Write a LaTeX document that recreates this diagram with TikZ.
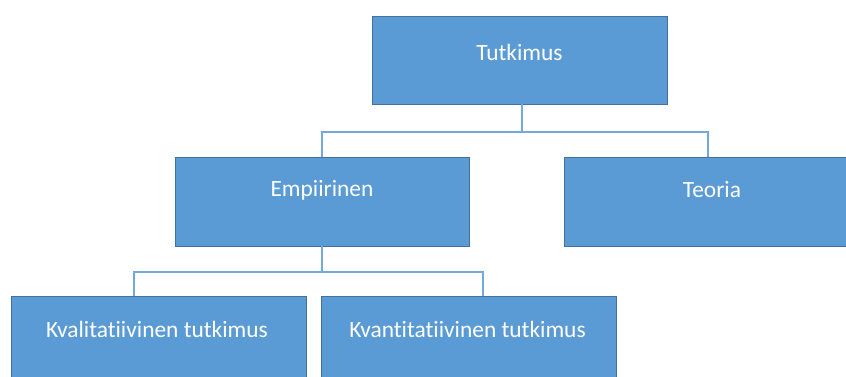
\documentclass[tikz,border=0pt]{standalone}
\usepackage{fontspec}
\setmainfont[Ligatures=NoCommon]{Carlito}
\definecolor{boxfill}{HTML}{5B9BD5}
\definecolor{boxedge}{HTML}{41719C}
\definecolor{linkblue}{HTML}{74A9DE}
\begin{document}
\begin{tikzpicture}[x=1pt,y=-1pt,
  orgbox/.style={draw=boxedge, line width=1pt, fill=boxfill},
  boxlabel/.style={text=white, font=\fontsize{23.4}{27}\selectfont, inner sep=0pt},
  link/.style={draw=linkblue, line width=2pt}]
  \useasboundingbox (0,0) rectangle (846,376);

  % boxes
  \path[orgbox] (372,16) rectangle (667,104);
  \path[orgbox] (175,157) rectangle (469,246);
  \path[orgbox] (564,157) rectangle (860,246);
  \path[orgbox] (11,296) rectangle (306,390);
  \path[orgbox] (321,296) rectangle (616,390);

  % labels
  \node[boxlabel] (tut) at (519.5,52) {Tutkimus};
  \node[boxlabel] (emp) at (322,190) {Empiirinen};
  \node[boxlabel] (teo) at (712,190) {Teoria};
  \node[boxlabel] (kval) at (157,329) {Kvalitatiivinen tutkimus};
  \node[boxlabel] (kvan) at (467.5,329) {Kvantitatiivinen tutkimus};

  % connector anchors
  \coordinate (tutB) at (522,104);
  \coordinate (empT) at (322,157);
  \coordinate (teoT) at (708,157);
  \coordinate (empB) at (322,246);
  \coordinate (kvalT) at (134,296);
  \coordinate (kvanT) at (483,296);

  % connectors
  \draw[link] (tutB) -- (tutB |- 0,132) -| (empT);
  \draw[link] (tutB |- 0,132) -| (teoT);
  \draw[link] (empB) -- (empB |- 0,272) -| (kvalT);
  \draw[link] (empB |- 0,272) -| (kvanT);
\end{tikzpicture}
\end{document}
